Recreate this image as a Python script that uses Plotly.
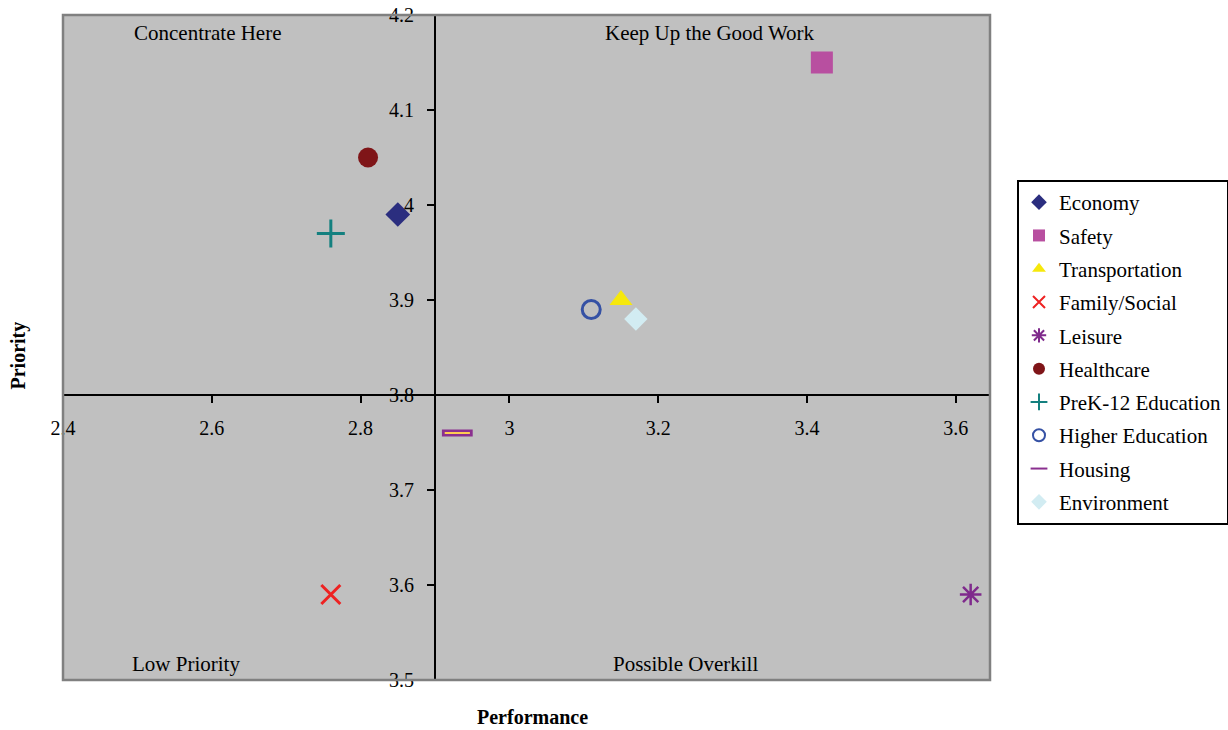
import plotly.graph_objects as go

# Importance-performance data for each community area
areas = ["Economy", "Safety", "Transportation", "Family/Social", "Leisure",
         "Healthcare", "PreK-12 Education", "Higher Education", "Housing", "Environment"]
performance = [2.85, 3.42, 3.15, 2.76, 3.62, 2.81, 2.76, 3.11, 2.93, 3.17]
priority = [3.99, 4.15, 3.90, 3.59, 3.59, 4.05, 3.97, 3.89, 3.76, 3.88]

symbols = ["diamond", "square", "triangle-up", "x-thin-open", "asterisk-open",
           "circle", "cross-thin-open", "circle-open", "line-ew-open", "diamond"]
colors = ["#2B2E7F", "#B84FA0", "#F6E80C", "#EE2222", "#7F2A8C",
          "#7F1518", "#14807F", "#3551A4", "#8A2F8F", "#D2ECF2"]
sizes = [19, 22, 20, 19, 18, 20, 20, 18, 22, 18]
line_widths = [0, 0, 0, 3, 2.5, 0, 3, 3, 7, 0]

x_ticks = [2.4, 2.6, 2.8, 3.0, 3.2, 3.4, 3.6]
y_ticks = [3.5, 3.6, 3.7, 3.8, 3.9, 4.0, 4.1, 4.2]

# Quadrant dividers
x_cross = 2.9
y_cross = 3.8
x_range = [2.4, 3.646]
y_range = [3.5, 4.2]

quadrants = ["Concentrate Here", "Keep Up the Good Work", "Low Priority", "Possible Overkill"]
quad_x = [2.595, 3.27, 2.565, 3.237]
quad_y = [4.181, 4.181, 3.517, 3.517]

FONT = "Liberation Serif, Times New Roman, serif"
FS = 20
FS_TEXT = 21

fig = go.Figure()
for i, name in enumerate(areas):
    fig.add_trace(go.Scatter(
        x=[performance[i]], y=[priority[i]], mode="markers", name=name,
        legendgroup=name,
        marker=dict(symbol=symbols[i], size=sizes[i], color=colors[i],
                    line=dict(color=colors[i], width=line_widths[i])),
    ))
    if name == "Housing":
        # hollow centre of the housing bar
        fig.add_trace(go.Scatter(
            x=[performance[i]], y=[priority[i]], mode="markers", showlegend=False,
            hoverinfo="skip",
            marker=dict(symbol="line-ew-open", size=sizes[i] - 4,
                        line=dict(color="#D9C6DB", width=2)),
        ))

for label, qx, qy in zip(quadrants, quad_x, quad_y):
    fig.add_annotation(x=qx, y=qy, text=label, showarrow=False,
                       font=dict(family=FONT, size=FS_TEXT, color="black"))

fig.add_annotation(x=0.507, y=-0.0556, xref="paper", yref="paper", text="<b>Performance</b>",
                   showarrow=False, xanchor="center", yanchor="middle",
                   font=dict(family=FONT, size=FS, color="black"))
fig.add_annotation(x=-0.0485, y=0.488, xref="paper", yref="paper", text="<b>Priority</b>",
                   showarrow=False, textangle=-90, xanchor="center", yanchor="middle",
                   font=dict(family=FONT, size=FS, color="black"))

# Plot-area border
fig.add_shape(type="rect", xref="paper", yref="paper", x0=0, y0=0, x1=1, y1=1,
              line=dict(color="#808080", width=2.5), layer="above")

x_pos = (x_cross - x_range[0]) / (x_range[1] - x_range[0])
y_pos = (y_cross - y_range[0]) / (y_range[1] - y_range[0])

fig.update_layout(
    width=1228, height=730,
    margin=dict(l=63, r=238, t=15, b=50),
    paper_bgcolor="white", plot_bgcolor="#C0C0C0",
    font=dict(family=FONT, size=FS, color="black"),
    xaxis=dict(range=x_range, tickvals=x_ticks, ticktext=[f"{v:g}" for v in x_ticks],
               showgrid=False, zeroline=False, showline=True, linecolor="black", linewidth=2,
               ticks="outside", ticklen=7, tickwidth=2, tickcolor="black",
               anchor="free", position=y_pos, tickfont=dict(size=FS),
               ticklabelstandoff=8, automargin=False),
    yaxis=dict(range=y_range, tickvals=y_ticks, ticktext=[f"{v:g}" for v in y_ticks],
               showgrid=False, zeroline=False, showline=True, linecolor="black", linewidth=2,
               ticks="outside", ticklen=7, tickwidth=2, tickcolor="black",
               anchor="free", position=x_pos, tickfont=dict(size=FS),
               ticklabelstandoff=9, automargin=False),
    legend=dict(x=1017 / 1228, y=1 - 180 / 730, xref="container", yref="container",
                xanchor="left", yanchor="top",
                bgcolor="white", bordercolor="black", borderwidth=2,
                font=dict(family=FONT, size=FS_TEXT, color="black"),
                tracegroupgap=3, itemsizing="constant", itemwidth=30),
)

fig.write_html("out.html")
